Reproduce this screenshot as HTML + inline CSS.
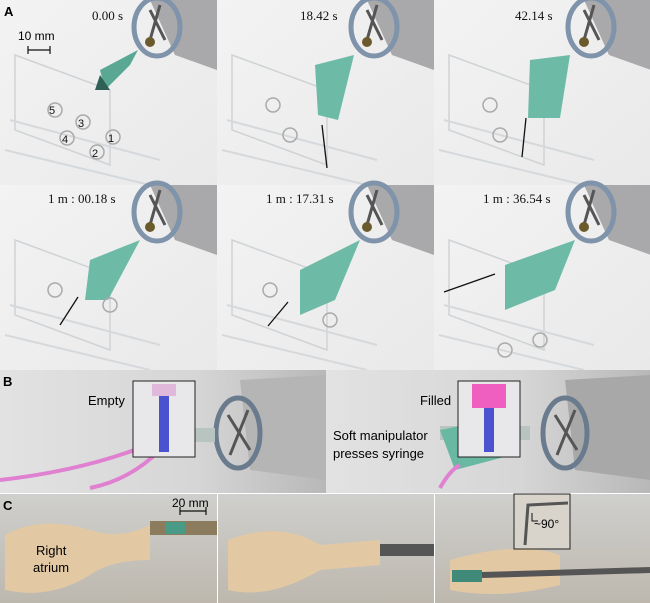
<!DOCTYPE html>
<html><head><meta charset="utf-8"><style>
html,body{margin:0;padding:0;background:#fff}
svg{display:block}
text{font-family:"Liberation Sans",sans-serif}
.t{font-family:"Liberation Serif",serif;font-size:13px;fill:#111}
</style></head><body>
<svg width="650" height="603" viewBox="0 0 650 603" xmlns="http://www.w3.org/2000/svg">
<defs>
<linearGradient id="bgA" x1="0" y1="0" x2="1" y2="1"><stop offset="0" stop-color="#f3f3f3"/><stop offset="1" stop-color="#e9e9e9"/></linearGradient>
<linearGradient id="bgB" x1="0" y1="0" x2="1" y2="0"><stop offset="0" stop-color="#e2e2e2"/><stop offset="0.6" stop-color="#d6d6d6"/><stop offset="1" stop-color="#b8b8b8"/></linearGradient>
<linearGradient id="bgC" x1="0" y1="0" x2="0" y2="1"><stop offset="0" stop-color="#cfcfcd"/><stop offset="1" stop-color="#bdb8ae"/></linearGradient>
<g id="cellA">
<rect width="217" height="185" fill="url(#bgA)"/>
<path d="M15 55 L110 90 L110 165 L15 130 Z" fill="none" stroke="#cfd3d6" stroke-width="1.5"/>
<path d="M5 150 L150 185 M10 120 L160 160" stroke="#d6d9dc" stroke-width="2"/>
<polygon points="150,0 217,0 217,70 175,55" fill="#a9a9ab"/>
<ellipse cx="157" cy="27" rx="23" ry="29" fill="none" stroke="#7f93aa" stroke-width="5"/>
<path d="M150 10 L165 40 M160 5 L150 40" stroke="#555" stroke-width="3"/>
<circle cx="150" cy="42" r="5" fill="#6b5a2c"/>
</g>
</defs>
<rect width="650" height="603" fill="#fff"/>
<use href="#cellA" x="0" y="0"/><use href="#cellA" x="217" y="0"/><use href="#cellA" x="434" y="0"/>
<use href="#cellA" x="0" y="185"/><use href="#cellA" x="217" y="185"/><use href="#cellA" x="434" y="185"/>
<path d="M138 50 L100 70 L105 90 L130 65 Z" fill="#5aa894"/>
<path d="M100 75 L95 90 L110 90 Z" fill="#2f5f55"/>
<path d="M354 55 L315 65 L318 115 L338 120 Z" fill="#6dbba6"/>
<path d="M570 55 L530 60 L528 118 L560 118 Z" fill="#6dbba6"/>
<path d="M140 240 L90 260 L85 300 L108 300 Z" fill="#6dbba6"/>
<path d="M360 240 L300 270 L300 315 L335 300 Z" fill="#6dbba6"/>
<path d="M575 240 L505 265 L505 310 L555 290 Z" fill="#6dbba6"/>
<g stroke="#111" stroke-width="1.3">
<line x1="322" y1="125" x2="327" y2="168"/><line x1="526" y1="118" x2="522" y2="157"/>
<line x1="78" y1="297" x2="60" y2="325"/><line x1="288" y1="302" x2="268" y2="326"/><line x1="495" y1="274" x2="444" y2="292"/>
</g>
<g fill="none" stroke="#aaa" stroke-width="1.5">
<circle cx="55" cy="110" r="7"/><circle cx="83" cy="122" r="7"/><circle cx="67" cy="138" r="7"/><circle cx="113" cy="137" r="7"/><circle cx="97" cy="152" r="7"/>
<circle cx="273" cy="105" r="7"/><circle cx="290" cy="135" r="7"/><circle cx="490" cy="105" r="7"/><circle cx="500" cy="135" r="7"/>
<circle cx="55" cy="290" r="7"/><circle cx="110" cy="305" r="7"/><circle cx="270" cy="290" r="7"/><circle cx="330" cy="320" r="7"/><circle cx="505" cy="350" r="7"/><circle cx="540" cy="340" r="7"/>
</g>
<g class="t"><text x="49" y="114" font-size="11">5</text><text x="78" y="127" font-size="11">3</text><text x="62" y="143" font-size="11">4</text><text x="108" y="142" font-size="11">1</text><text x="92" y="157" font-size="11">2</text></g>
<text x="4" y="16" font-weight="bold" font-size="13">A</text>
<text x="18" y="40" font-size="12">10 mm</text>
<path d="M28 50 H50 M28 46 V54 M50 46 V54" stroke="#111" stroke-width="1.2"/>
<text class="t" x="92" y="20">0.00 s</text>
<text class="t" x="300" y="20">18.42 s</text>
<text class="t" x="515" y="20">42.14 s</text>
<text class="t" x="48" y="203">1 m : 00.18 s</text>
<text class="t" x="266" y="203">1 m : 17.31 s</text>
<text class="t" x="483" y="203">1 m : 36.54 s</text>
<rect x="0" y="370" width="326" height="123" fill="url(#bgB)"/>
<rect x="326" y="370" width="324" height="123" fill="url(#bgB)"/>
<polygon points="240,380 326,375 326,480 250,470" fill="#b5b5b5"/>
<polygon points="565,380 650,375 650,480 575,470" fill="#a8a8a8"/>
<ellipse cx="238" cy="433" rx="22" ry="35" fill="none" stroke="#6a7b8e" stroke-width="5"/>
<ellipse cx="565" cy="433" rx="22" ry="35" fill="none" stroke="#6a7b8e" stroke-width="5"/>
<path d="M228 415 L250 450 M248 410 L230 455" stroke="#555" stroke-width="3"/>
<path d="M555 415 L577 450 M575 410 L557 455" stroke="#555" stroke-width="3"/>
<rect x="165" y="428" width="50" height="14" fill="#b8c4bf"/>
<rect x="168" y="422" width="16" height="22" rx="5" fill="#4f8f80"/>
<path d="M0 480 Q90 470 160 440" stroke="#e080d0" stroke-width="4" fill="none"/>
<path d="M90 488 Q130 480 160 450" stroke="#e080d0" stroke-width="4" fill="none"/>
<rect x="440" y="426" width="90" height="14" fill="#b8c4bf"/>
<path d="M440 430 L500 418 L512 455 L455 470 Z" fill="#69b8a2"/>
<path d="M440 488 Q450 470 460 465" stroke="#e080d0" stroke-width="4" fill="none"/>
<rect x="133" y="381" width="62" height="76" fill="#e8e8ea" stroke="#222" stroke-width="1"/>
<rect x="159" y="390" width="10" height="62" fill="#4a52cf"/>
<rect x="152" y="384" width="24" height="12" fill="#e0b8dc"/>
<rect x="458" y="381" width="62" height="76" fill="#e8e8ea" stroke="#222" stroke-width="1"/>
<rect x="484" y="405" width="10" height="47" fill="#4a52cf"/>
<rect x="472" y="384" width="34" height="24" fill="#ee5fc0"/>
<text x="3" y="386" font-weight="bold" font-size="13">B</text>
<text x="88" y="405" font-size="13">Empty</text>
<text x="420" y="405" font-size="13">Filled</text>
<text x="333" y="440" font-size="13">Soft manipulator</text>
<text x="333" y="458" font-size="13">presses syringe</text>
<rect x="0" y="494" width="217" height="109" fill="url(#bgC)"/>
<rect x="218" y="494" width="216" height="109" fill="url(#bgC)"/>
<rect x="435" y="494" width="215" height="109" fill="url(#bgC)"/>
<path d="M5 535 Q40 515 90 530 Q120 540 150 525 L150 560 Q110 560 90 575 Q50 600 5 590 Z" fill="#e2c9a4"/>
<rect x="150" y="521" width="67" height="14" fill="#8b7c5e"/><rect x="165" y="522" width="20" height="12" fill="#4a9a88"/>
<path d="M228 540 Q280 520 320 545 L380 540 L380 565 L320 570 Q270 600 228 590 Z" fill="#e2c9a4"/>
<rect x="380" y="544" width="54" height="12" fill="#555"/>
<path d="M450 560 Q520 540 560 555 L560 585 Q500 600 450 590 Z" fill="#e2c9a4"/>
<rect x="452" y="570" width="30" height="12" fill="#3f8a78"/>
<path d="M482 575 L650 570" stroke="#555" stroke-width="6"/>
<rect x="514" y="494" width="56" height="55" fill="#d8d4cc" stroke="#222" stroke-width="1"/>
<path d="M525 545 L528 505 L568 503" stroke="#555" stroke-width="3" fill="none"/>
<text x="3" y="510" font-weight="bold" font-size="13">C</text>
<text x="172" y="507" font-size="12">20 mm</text>
<path d="M180 511 H206 M180 507 V515 M206 507 V515" stroke="#111" stroke-width="1.2"/>
<text x="36" y="555" font-size="13">Right</text>
<text x="33" y="572" font-size="13">atrium</text>
<text x="534" y="528" font-size="12">~90°</text>
<path d="M532 513 V521 H538" stroke="#111" fill="none"/>
</svg>
</body></html>
